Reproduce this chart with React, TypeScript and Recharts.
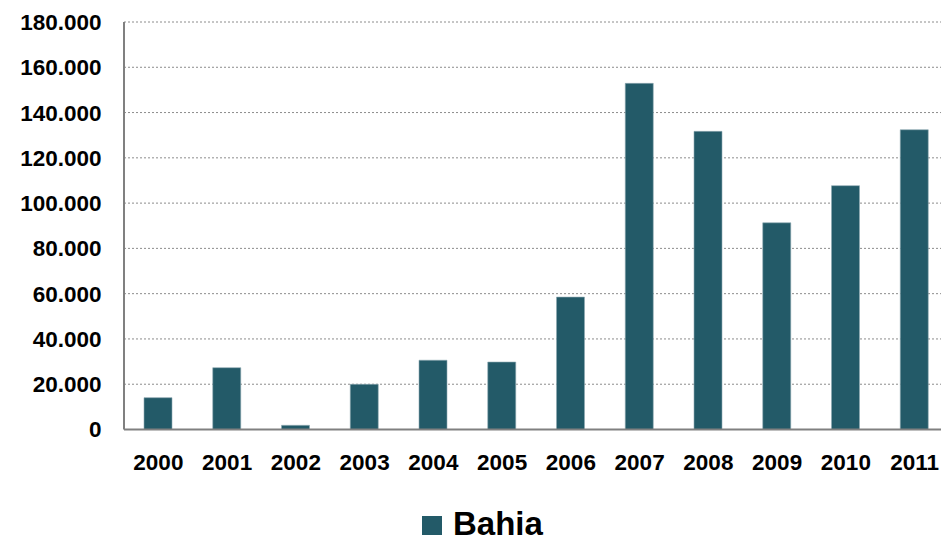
import { Bar, BarChart, CartesianGrid, Legend, XAxis, YAxis } from "recharts";

const years = ["2000", "2001", "2002", "2003", "2004", "2005", "2006", "2007", "2008", "2009", "2010", "2011"];
const bahia = [14050, 27300, 1850, 19950, 30600, 29800, 58500, 152900, 131700, 91300, 107700, 132400];
const yTicks = [0, 20000, 40000, 60000, 80000, 100000, 120000, 140000, 160000, 180000];

const data = years.map((year, i) => ({ year, bahia: bahia[i] }));

const font = "'Liberation Sans', Arial, sans-serif";
const barColor = "#235a68";

function fmt(v: number) {
  return v.toLocaleString("de-DE");
}

function BahiaLegend() {
  return (
    <div style={ { display: "flex", alignItems: "center", fontFamily: font } }>
      <span style={ { width: 20, height: 19, background: barColor, display: "inline-block", marginRight: 11, marginTop: 3 } } />
      <span style={ { fontSize: 33, fontWeight: "bold", color: "#000", lineHeight: "32px" } }>Bahia</span>
    </div>
  );
}

export default function App() {
  return (
    <div style={ { position: "absolute", left: 0, top: 0, width: 941, height: 541, overflow: "hidden", background: "#fff" } }>
      <BarChart width={960} height={541} data={data} margin={ { top: 22, right: 11, left: 1.5, bottom: 51.5 } } barSize={28}>
        <CartesianGrid vertical={false} stroke="#8c8c8c" strokeDasharray="2 2" />
        <XAxis
          dataKey="year"
          height={60}
          tickSize={0}
          tickMargin={25}
          axisLine={ { stroke: "#808080", strokeWidth: 2 } }
          tick={ { fill: "#000", fontSize: 22.5, fontWeight: "bold", fontFamily: font } }
        />
        <YAxis
          width={122.5}
          domain={[0, 180000]}
          ticks={yTicks}
          tickFormatter={fmt}
          tickSize={0}
          tickMargin={22.5}
          axisLine={ { stroke: "#808080", strokeWidth: 2 } }
          tick={ { fill: "#000", fontSize: 22.5, fontWeight: "bold", fontFamily: font } }
        />
        <Legend
          layout="horizontal"
          verticalAlign="middle"
          wrapperStyle={ { left: 422, top: 508, width: "auto" } }
          content={() => <BahiaLegend />}
        />
        <Bar dataKey="bahia" name="Bahia" fill={barColor} stroke="#8eaab2" strokeWidth={0.6} isAnimationActive={false} />
      </BarChart>
    </div>
  );
}
